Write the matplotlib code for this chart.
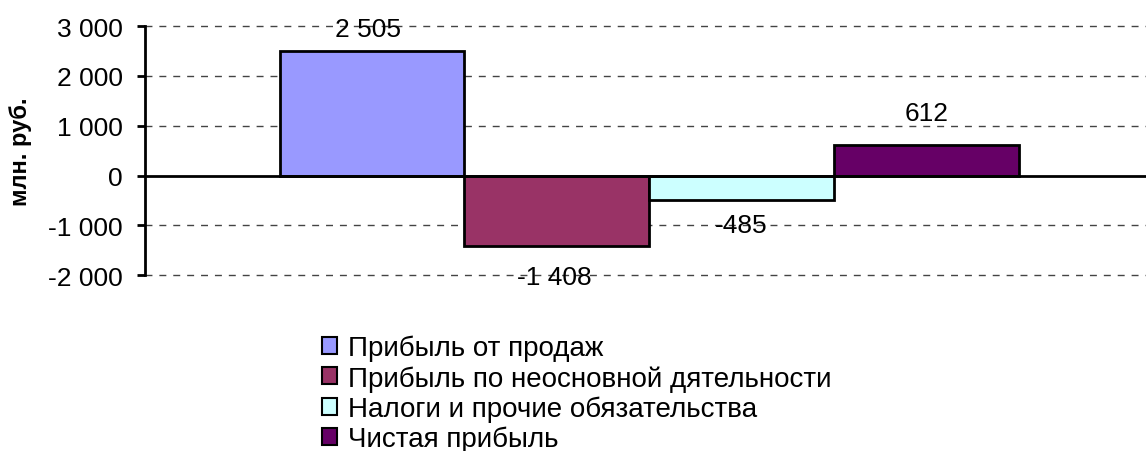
import numpy as np
import matplotlib.pyplot as plt
from matplotlib.patches import Patch
from matplotlib.ticker import FuncFormatter

plt.rcParams['font.family'] = ['Liberation Sans', 'DejaVu Sans']

# data
series = ['Прибыль от продаж', 'Прибыль по неосновной дятельности',
          'Налоги и прочие обязательства', 'Чистая прибыль']
values = [2505, -1408, -485, 612]
colors = ['#9999FF', '#993366', '#CCFFFF', '#660066']
yticks = [-2000, -1000, 0, 1000, 2000, 3000]

# layout: pixel nudges of the value labels, as excel placed them
label_offsets = [(-4, 22), (-3, -31), (0, -25), (0, 32)]


def fmt_num(v):
    # excel-style thousands separator with a space
    return f"{int(v):,}".replace(',', ' ')


def main():
    fig = plt.figure(figsize=(11.46, 4.52), dpi=100)
    ax = fig.add_axes([0.1265, 0.389, 0.8735, 0.551])

    x = np.arange(len(values)) - (len(values) - 1) / 2
    bars = ax.bar(x, values, width=1.0, color=colors, edgecolor='black',
                  linewidth=2, zorder=3)

    for b, v, off in zip(bars, values, label_offsets):
        cx = b.get_x() + b.get_width() / 2
        ax.annotate(fmt_num(v), (cx, v), xytext=off, textcoords='offset pixels',
                    ha='center', va='center', fontsize=19, zorder=4)

    ax.set_xlim(-2.73, 2.69)
    ax.set_ylim(-2000, 3000)
    ax.set_yticks(yticks)
    ax.yaxis.set_major_formatter(FuncFormatter(lambda v, p: fmt_num(v)))
    ax.tick_params(axis='y', labelsize=19, length=6, width=2, direction='out', pad=10)
    ax.set_xticks([])

    for t in yticks:
        if t != 0:
            ax.axhline(t, color='#444444', lw=1, ls=(0, (5, 5)), zorder=1, clip_on=False)
    ax.axhline(0, color='black', lw=2, zorder=4)

    for s in ['top', 'right', 'bottom']:
        ax.spines[s].set_visible(False)
    ax.spines['left'].set_linewidth(2)

    ax.set_ylabel('млн. руб.', fontsize=17, fontweight='bold')
    ax.yaxis.set_label_coords(-0.113, 0.5)

    handles = [Patch(facecolor=c, edgecolor='black', linewidth=1.5) for c in colors]
    fig.legend(handles, series, loc='upper left', bbox_to_anchor=(0.281, 0.257),
               frameon=False, fontsize=20, handlelength=0.55, handleheight=0.55,
               handletextpad=0.4, labelspacing=0.14, borderaxespad=0, borderpad=0)

    fig.savefig('out.png', dpi=100)
    plt.close(fig)


main()
